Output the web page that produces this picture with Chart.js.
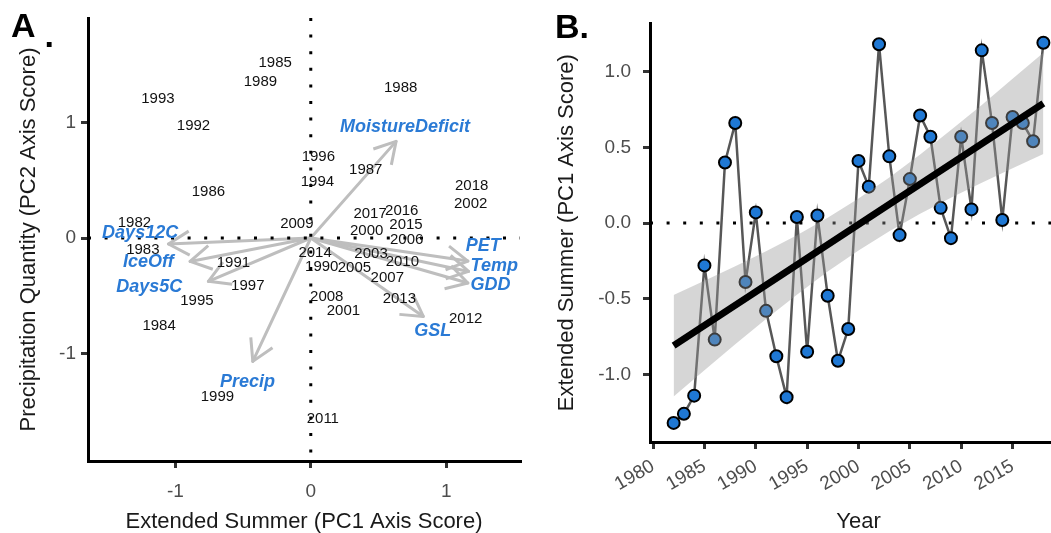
<!DOCTYPE html>
<html>
<head>
<meta charset="utf-8">
<script src="https://cdn.jsdelivr.net/npm/chart.js@4.4.1/dist/chart.umd.min.js"></script>
<style>
  html, body { margin: 0; padding: 0; background: #fff; overflow: hidden; }
  body { width: 1051px; height: 533px; position: relative; font-family: "Liberation Sans", Arial, sans-serif; }
  #panelA { position: absolute; left: 0; top: 0; }
  #panelB { position: absolute; left: 540px; top: 0; }
  .tag { position: absolute; font-weight: bold; font-size: 34px; line-height: 1; color: #000; }
</style>
</head>
<body>
<canvas id="panelA" width="540" height="533"></canvas>
<canvas id="panelB" width="540" height="533"></canvas>
<div class="tag" style="left:11px;top:8px">A<span style="position:relative;left:9px;top:10px">.</span></div>
<div class="tag" style="left:555px;top:9px">B.</div>
<script>
// --- PCA scores per year (panel A) ---
const scoreYears = [1985, 1989, 1993, 1992, 1986, 1996, 1994, 1982, 2009, 1988, 1987, 2018,
  2002, 2017, 2016, 2015, 2000, 2006, 2014, 2003, 2010, 1990, 2005, 2007, 2008, 2013, 2001,
  2012, 2011, 1983, 1991, 1997, 1995, 1984, 1999];
const scorePC1 = [-0.263, -0.372, -1.129, -0.866, -0.756, 0.056, 0.049, -1.302, -0.103, 0.664,
  0.406, 1.188, 1.181, 0.438, 0.672, 0.703, 0.413, 0.708, 0.032, 0.445, 0.676, 0.081, 0.322,
  0.565, 0.118, 0.654, 0.241, 1.144, 0.089, -1.240, -0.571, -0.465, -0.841, -1.120, -0.689];
const scorePC2 = [1.523, 1.350, 1.208, 0.974, 0.402, 0.703, 0.491, 0.135, 0.124, 1.301,
  0.592, 0.448, 0.295, 0.208, 0.239, 0.115, 0.063, -0.015, -0.125, -0.136, -0.208, -0.246,
  -0.255, -0.347, -0.512, -0.529, -0.628, -0.700, -1.565, -0.101, -0.217, -0.414, -0.541,
  -0.761, -1.374];

// --- variable loadings (arrow tips) and where their names sit ---
const varNames = ['Days12C', 'IceOff', 'Days5C', 'Precip', 'MoistureDeficit', 'PET', 'Temp', 'GDD', 'GSL'];
const loadPC1 = [-1.051, -0.891, -0.756, -0.428, 0.630, 1.160, 1.165, 1.160, 0.831];
const loadPC2 = [-0.052, -0.203, -0.376, -1.070, 0.838, -0.200, -0.290, -0.390, -0.680];
const nameX = [-1.260, -1.199, -1.193, -0.468, 0.696, 1.274, 1.355, 1.328, 0.900];
const nameY = [0.043, -0.208, -0.425, -1.252, 0.959, -0.067, -0.246, -0.411, -0.810];
const pcTicks = [-1, 0, 1];

// --- PC1 time series (panel B) ---
const years = [1982, 1983, 1984, 1985, 1986, 1987, 1988, 1989, 1990, 1991, 1992, 1993, 1994,
  1995, 1996, 1997, 1998, 1999, 2000, 2001, 2002, 2003, 2004, 2005, 2006, 2007, 2008, 2009,
  2010, 2011, 2012, 2013, 2014, 2015, 2016, 2017, 2018];
const pc1Series = [-1.32, -1.26, -1.14, -0.28, -0.77, 0.40, 0.66, -0.39, 0.07, -0.58, -0.88,
  -1.15, 0.04, -0.85, 0.05, -0.48, -0.91, -0.70, 0.41, 0.24, 1.18, 0.44, -0.08, 0.29, 0.71,
  0.57, 0.10, -0.10, 0.57, 0.09, 1.14, 0.66, 0.02, 0.70, 0.66, 0.54, 1.19];
const fitYears = [1982, 2018];
const fitValues = [-0.81, 0.79];
const bandYears = [1982, 1985, 1988, 1991, 1994, 1997, 2000, 2003, 2006, 2009, 2012, 2015, 2018];
const bandLower = [-1.145, -0.972, -0.800, -0.634, -0.473, -0.321, -0.181, -0.054, 0.061, 0.167, 0.266, 0.362, 0.455];
const bandUpper = [-0.475, -0.382, -0.286, -0.187, -0.081, 0.034, 0.161, 0.301, 0.453, 0.614, 0.780, 0.952, 1.125];
const yearTicks = [1980, 1985, 1990, 1995, 2000, 2005, 2010, 2015];
const pc1Ticks = [-1, -0.5, 0, 0.5, 1];

const FONT = "'Liberation Sans', Arial, sans-serif";
const TICK_GREY = '#4d4d4d';
const ARROW_GREY = '#bebebe';
const LABEL_BLUE = '#2a7ad5';

Chart.defaults.font.family = FONT;
Chart.defaults.animation = false;
Chart.defaults.plugins.legend.display = false;
Chart.defaults.plugins.tooltip.enabled = false;

function axisGrid() {
  return { display: true, drawOnChartArea: false, drawTicks: true, tickLength: 7, lineWidth: 3, color: '#333' };
}
const axisBorder = { display: true, color: '#000', width: 3 };

// dotted reference line through zero
function dotted(ctx, x1, y1, x2, y2) {
  ctx.save();
  ctx.strokeStyle = '#000';
  ctx.lineWidth = 3;
  ctx.lineCap = 'butt';
  ctx.setLineDash([3, 13.6]);
  ctx.beginPath();
  ctx.moveTo(x1, y1);
  ctx.lineTo(x2, y2);
  ctx.stroke();
  ctx.restore();
}

const biplotLayer = {
  id: 'biplotLayer',
  afterDatasetsDraw(chart) {
    const { ctx, chartArea: a, scales: { x, y } } = chart;
    const ox = x.getPixelForValue(0), oy = y.getPixelForValue(0);

    // open arrow heads on the loading vectors
    ctx.save();
    ctx.strokeStyle = ARROW_GREY;
    ctx.lineWidth = 3;
    ctx.lineJoin = 'round';
    varNames.forEach((n, i) => {
      const tx = x.getPixelForValue(loadPC1[i]);
      const ty = y.getPixelForValue(loadPC2[i]);
      const ang = Math.atan2(ty - oy, tx - ox);
      const len = 24, spread = Math.PI / 6;
      ctx.beginPath();
      ctx.moveTo(tx - len * Math.cos(ang - spread), ty - len * Math.sin(ang - spread));
      ctx.lineTo(tx, ty);
      ctx.lineTo(tx - len * Math.cos(ang + spread), ty - len * Math.sin(ang + spread));
      ctx.stroke();
    });
    ctx.restore();

    dotted(ctx, ox, a.top, ox, a.bottom);
    dotted(ctx, a.left, oy, a.right, oy);

    ctx.save();
    ctx.textAlign = 'center';
    ctx.textBaseline = 'middle';
    ctx.font = '15px ' + FONT;
    ctx.fillStyle = '#111';
    scoreYears.forEach((yr, i) => {
      ctx.fillText(String(yr), x.getPixelForValue(scorePC1[i]), y.getPixelForValue(scorePC2[i]));
    });
    ctx.font = 'italic bold 18px ' + FONT;
    ctx.fillStyle = LABEL_BLUE;
    varNames.forEach((n, i) => {
      ctx.fillText(n, x.getPixelForValue(nameX[i]), y.getPixelForValue(nameY[i]));
    });
    ctx.restore();
  }
};

const zeroLine = {
  id: 'zeroLine',
  beforeDatasetsDraw(chart) {
    const { ctx, chartArea: a, scales: { y } } = chart;
    const y0 = y.getPixelForValue(0);
    dotted(ctx, a.left, y0, a.right, y0);
  }
};

// Panel A: biplot
new Chart(document.getElementById('panelA'), {
  type: 'line',
  data: {
    datasets: varNames.map((n, i) => ({
      label: n,
      data: [{ x: 0, y: 0 }, { x: loadPC1[i], y: loadPC2[i] }],
      borderColor: ARROW_GREY,
      borderWidth: 3,
      pointRadius: 0,
      borderCapStyle: 'round'
    }))
  },
  options: {
    responsive: false,
    layout: { padding: { top: 18, right: 20, left: 0, bottom: 0 } },
    scales: {
      x: {
        type: 'linear', min: -1.645, max: 1.545,
        afterBuildTicks: s => { s.ticks = pcTicks.map(v => ({ value: v })); },
        afterFit: s => { s.height = 72; },
        grid: axisGrid(), border: axisBorder,
        ticks: { color: TICK_GREY, font: { size: 19 }, padding: 12, callback: v => String(v) },
        title: { display: true, text: 'Extended Summer (PC1 Axis Score)', color: '#1a1a1a',
          font: { size: 22, lineHeight: 1 }, padding: { top: 0, bottom: 0 } }
      },
      y: {
        type: 'linear', min: -1.934, max: 1.908,
        afterBuildTicks: s => { s.ticks = pcTicks.map(v => ({ value: v })); },
        afterFit: s => { s.width = 88; },
        grid: axisGrid(), border: axisBorder,
        ticks: { color: TICK_GREY, font: { size: 19 }, padding: 5, callback: v => String(v) },
        title: { display: true, text: 'Precipitation Quantity (PC2 Axis Score)', color: '#1a1a1a',
          font: { size: 22, lineHeight: 1 }, padding: { top: 18, bottom: 0 } }
      }
    }
  },
  plugins: [biplotLayer]
});

// Panel B: PC1 through time with linear trend
new Chart(document.getElementById('panelB'), {
  type: 'line',
  data: {
    datasets: [
      {
        label: 'PC1',
        data: years.map((yr, i) => ({ x: yr, y: pc1Series[i] })),
        borderColor: '#575757', borderWidth: 2.5, tension: 0,
        pointRadius: 6, pointBackgroundColor: '#1f78d4', pointBorderColor: '#000', pointBorderWidth: 2,
        order: 3
      },
      {
        label: 'lower',
        data: bandYears.map((yr, i) => ({ x: yr, y: bandLower[i] })),
        borderWidth: 0, borderColor: 'rgba(0,0,0,0)', pointRadius: 0, fill: false,
        order: 2
      },
      {
        label: 'upper',
        data: bandYears.map((yr, i) => ({ x: yr, y: bandUpper[i] })),
        borderWidth: 0, borderColor: 'rgba(0,0,0,0)', pointRadius: 0,
        fill: '-1', backgroundColor: 'rgba(153,153,153,0.4)',
        order: 2
      },
      {
        label: 'trend',
        data: fitYears.map((yr, i) => ({ x: yr, y: fitValues[i] })),
        borderColor: '#000', borderWidth: 7, pointRadius: 0, borderCapStyle: 'butt',
        order: 1
      }
    ]
  },
  options: {
    responsive: false,
    layout: { padding: { top: 18, right: 13, left: 0, bottom: 0 } },
    scales: {
      x: {
        type: 'linear', min: 1979.7, max: 2020.3,
        afterBuildTicks: s => { s.ticks = yearTicks.map(v => ({ value: v })); },
        afterFit: s => { s.height = 91; },
        grid: axisGrid(), border: axisBorder,
        ticks: { color: TICK_GREY, font: { size: 19 }, padding: 6, autoSkip: false,
          maxRotation: 30, minRotation: 30, callback: v => String(v) },
        title: { display: true, text: 'Year', color: '#1a1a1a',
          font: { size: 22, lineHeight: 1 }, padding: { top: 0, bottom: 0 } }
      },
      y: {
        type: 'linear', min: -1.446, max: 1.318,
        afterBuildTicks: s => { s.ticks = pc1Ticks.map(v => ({ value: v })); },
        afterFit: s => { s.width = 110; },
        grid: axisGrid(), border: axisBorder,
        ticks: { color: TICK_GREY, font: { size: 19 }, padding: 12, callback: v => v.toFixed(1) },
        title: { display: true, text: 'Extended Summer (PC1 Axis Score)', color: '#1a1a1a',
          font: { size: 22, lineHeight: 1 }, padding: { top: 16, bottom: 0 } }
      }
    }
  },
  plugins: [zeroLine]
});
</script>
</body>
</html>
